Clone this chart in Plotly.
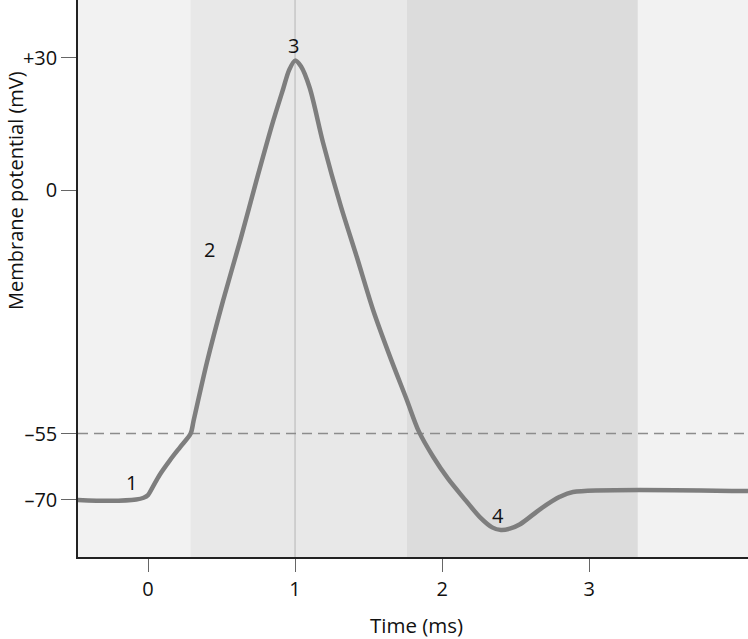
import plotly.graph_objects as go

# Potentiel d'action : temps (ms) et potentiel de membrane (mV)
time_ms = [-0.48, -0.26, -0.08, -0.03, 0.0, 0.03, 0.08, 0.15, 0.22, 0.29, 0.31,
           0.40, 0.51, 0.63, 0.74, 0.85, 0.92, 0.96, 1.0, 1.04, 1.10, 1.19, 1.31,
           1.42, 1.53, 1.65, 1.76, 1.84, 1.94, 2.04, 2.14, 2.26, 2.34, 2.40, 2.46,
           2.53, 2.67, 2.80, 2.89, 4.08]
potential_mv = [-70.0, -70.2, -69.9, -69.5, -68.9, -67.2, -64.3, -61.0, -58.0,
                -55.0, -52.1, -39.0, -25.0, -11.0, 2.5, 15.5, 23.0, 27.2, 29.3,
                28.0, 23.1, 10.8, -3.5, -15.1, -27.0, -38.0, -47.4, -54.4, -60.3,
                -65.2, -69.3, -74.0, -76.2, -76.8, -76.5, -75.5, -72.0, -69.3,
                -68.2, -68.0]

# Limites des phases (ms) pour les bandes de fond
phase_edges = [0.29, 1.76, 3.33]
threshold_mv = -55
peak_time = 1.0

# Etiquettes des phases
phase_labels = ["1", "2", "3", "4"]
phase_label_x = [-0.11, 0.42, 0.99, 2.38]
phase_label_y = [-66.0, -13.5, 32.8, -73.6]

# Graduations
x_ticks = [0, 1, 2, 3]
y_ticks = [30, 0, -55, -70]
y_tick_text = ["+30", "0", "–55", "–70"]

font = "Open Sans"
txt_col = "#111111"

fig = go.Figure()

fig.add_trace(go.Scatter(
    x=time_ms, y=potential_mv, mode="lines",
    line=dict(color="#7e7e7e", width=4.5, shape="spline", smoothing=0.8),
    hoverinfo="skip", showlegend=False,
))

# Bandes de fond (phases)
fig.add_vrect(x0=phase_edges[0], x1=phase_edges[1], fillcolor="#e8e8e8",
              line_width=0, layer="below")
fig.add_vrect(x0=phase_edges[1], x1=phase_edges[2], fillcolor="#dcdcdc",
              line_width=0, layer="below")

# Ligne verticale au pic et seuil en pointillés
fig.add_vline(x=peak_time, line=dict(color="#c6c6c6", width=1.5), layer="below")
fig.add_hline(y=threshold_mv, line=dict(color="#8c8c8c", width=1.5, dash="10px,6px"),
              layer="below")

for txt, lx, ly in zip(phase_labels, phase_label_x, phase_label_y):
    fig.add_annotation(x=lx, y=ly, text=txt, showarrow=False,
                       font=dict(family=font, size=20, color=txt_col))

# Titres des axes
fig.add_annotation(x=0.505, xref="paper", y=-0.122, yref="paper", text="Time (ms)",
                   xanchor="center", yanchor="middle", showarrow=False,
                   font=dict(family=font, size=20.5, color=txt_col))
fig.add_annotation(x=-0.093, xref="paper", y=0, yref="y", text="Membrane potential (mV)",
                   xanchor="center", yanchor="middle", textangle=-90, showarrow=False,
                   font=dict(family=font, size=20, color=txt_col))

fig.update_xaxes(
    range=[-0.476, 4.08], tickvals=x_ticks, ticks="outside", ticklen=13,
    tickcolor="#666666", tickwidth=1.2, showgrid=False, zeroline=False,
    showline=True, linecolor="#222222", linewidth=1.5,
    tickfont=dict(family=font, size=20, color=txt_col),
)
fig.update_yaxes(
    range=[-82.9, 43.0], tickvals=y_ticks, ticktext=y_tick_text, ticks="outside",
    ticklen=15, tickcolor="#666666", tickwidth=1.2, showgrid=False, zeroline=False,
    showline=True, linecolor="#222222", linewidth=1.5,
    tickfont=dict(family=font, size=20, color=txt_col),
)

fig.update_layout(
    width=748, height=639,
    margin=dict(l=78, r=0, t=0, b=82),
    plot_bgcolor="#f2f2f2", paper_bgcolor="white",
    font=dict(family=font),
)

fig.write_html("out.html", config={"displayModeBar": False},
               post_script="document.body.style.margin='0';")
